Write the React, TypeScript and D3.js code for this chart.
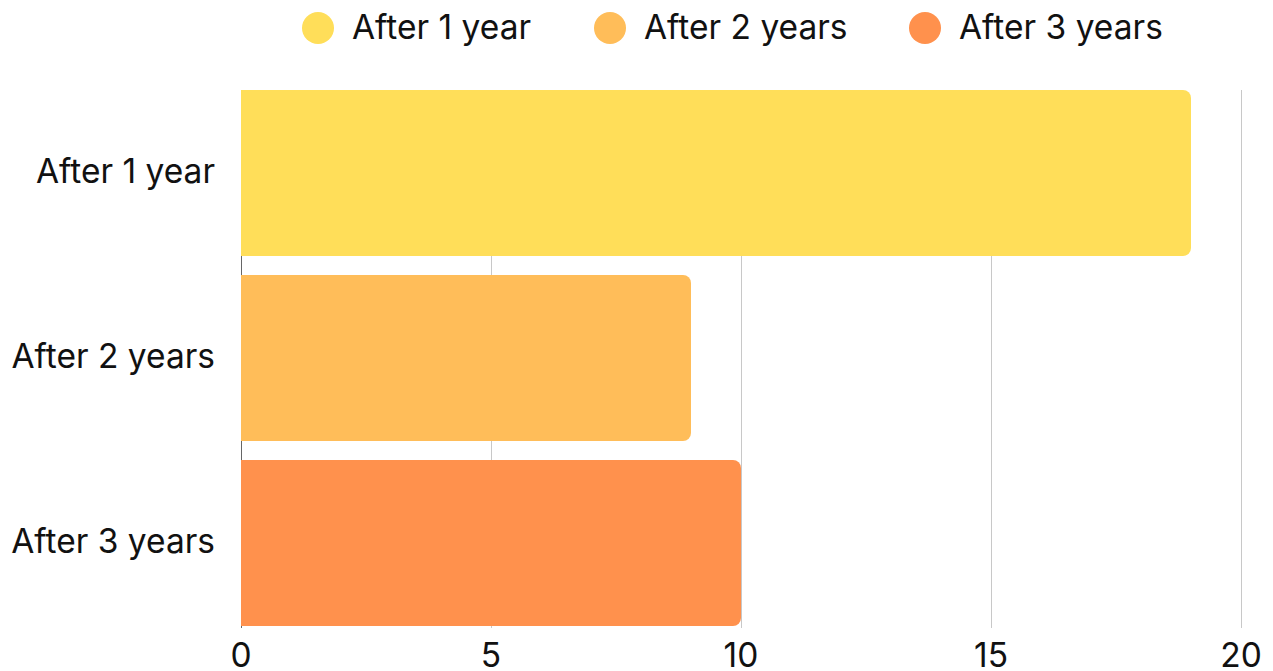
import { useEffect, useRef } from "react";
import * as d3 from "d3";

// Horizontal bars, one per period, with a legend across the top.
const categories = ["After 1 year", "After 2 years", "After 3 years"];
const values = [19, 9, 10];
const colors = ["#FFDE59", "#FFBD59", "#FF914D"];
const xTicks = [0, 5, 10, 15, 20];

const WIDTH = 1273;
const HEIGHT = 671;
const MARGIN = { top: 80.5, right: 32, bottom: 35.5, left: 241 };
const FONT = "Inter, 'Open Sans', sans-serif";
const FONT_SIZE = 33.5;

export default function App() {
  const svgRef = useRef<SVGSVGElement>(null);

  useEffect(() => {
    const svg = d3.select(svgRef.current);
    svg.selectAll("*").remove();

    const x = d3
      .scaleLinear()
      .domain([0, 20])
      .range([MARGIN.left, WIDTH - MARGIN.right]);
    const y = d3
      .scaleBand<string>()
      .domain(categories)
      .range([MARGIN.top, HEIGHT - MARGIN.bottom])
      .paddingInner(0.103)
      .paddingOuter(0.0515);

    const top = y(categories[0])!;
    const bottom = y(categories[categories.length - 1])! + y.bandwidth();

    // grid
    svg
      .append("g")
      .selectAll("line")
      .data(xTicks)
      .join("line")
      .attr("x1", (d) => x(d) + 0.5)
      .attr("x2", (d) => x(d) + 0.5)
      .attr("y1", top)
      .attr("y2", bottom + 2)
      .attr("stroke", (d) => (d === 0 ? "#666" : "#c8c8c8"))
      .attr("stroke-width", 1);

    // bars, rounded on the right end only
    const r = 8;
    const barPath = (x0: number, x1: number, y0: number, h: number) => {
      const p = d3.path();
      p.moveTo(x0, y0);
      p.lineTo(x1 - r, y0);
      p.arcTo(x1, y0, x1, y0 + r, r);
      p.lineTo(x1, y0 + h - r);
      p.arcTo(x1, y0 + h, x1 - r, y0 + h, r);
      p.lineTo(x0, y0 + h);
      p.closePath();
      return p.toString();
    };

    svg
      .append("g")
      .selectAll("path")
      .data(categories)
      .join("path")
      .attr("d", (c, i) => barPath(x(0), x(values[i]), y(c)!, y.bandwidth()))
      .attr("fill", (_, i) => colors[i]);

    // category labels
    svg
      .append("g")
      .selectAll("text")
      .data(categories)
      .join("text")
      .attr("x", 215)
      .attr("y", (c) => y(c)! + y.bandwidth() / 2)
      .attr("dy", "0.3em")
      .attr("text-anchor", "end")
      .attr("font-family", FONT)
      .attr("font-size", FONT_SIZE)
      .attr("fill", "#111")
      .text((c) => c);

    // x tick labels
    svg
      .append("g")
      .selectAll("text")
      .data(xTicks)
      .join("text")
      .attr("x", (d) => x(d))
      .attr("y", 667)
      .attr("text-anchor", "middle")
      .attr("font-family", FONT)
      .attr("font-size", FONT_SIZE)
      .attr("fill", "#111")
      .text((d) => d);

    // legend
    const legendX = [318, 610, 925];
    const lg = svg
      .append("g")
      .selectAll("g")
      .data(categories)
      .join("g")
      .attr("transform", (_, i) => `translate(${legendX[i]},28)`);
    lg.append("circle").attr("r", 16).attr("fill", (_, i) => colors[i]);
    lg.append("text")
      .attr("x", 34)
      .attr("dy", "0.33em")
      .attr("font-family", FONT)
      .attr("font-size", FONT_SIZE)
      .attr("fill", "#111")
      .text((c) => c);
  }, []);

  return (
    <svg
      ref={svgRef}
      width={WIDTH}
      height={HEIGHT}
      style={{ position: "absolute", left: 0, top: 0, background: "#fff" }}
    />
  );
}
